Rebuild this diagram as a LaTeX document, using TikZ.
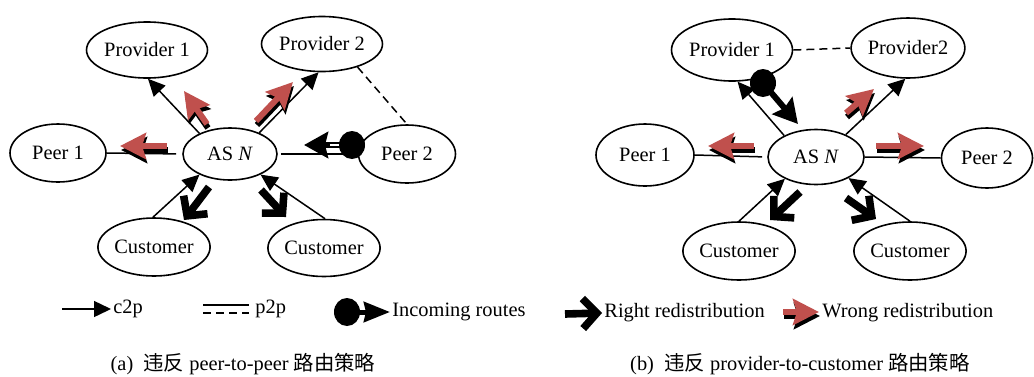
\documentclass[tikz,border=0pt]{standalone}
\usepackage{fontspec}
\setmainfont{Liberation Serif}
\newfontfamily\cjk{Noto Sans CJK SC}
\usetikzlibrary{shapes.geometric,arrows.meta,calc}
\definecolor{wred}{RGB}{192,80,77}
\newcommand\wrongarr[2]{%
  \draw[shadowr,shift={(1,4)}] #1 -- #2;
  \draw[wrongr] #1 -- #2;}
\begin{document}
\begin{tikzpicture}[x=0.5pt,y=-0.5pt,
  every node/.style={font=\fontsize{10.2}{12}\selectfont},
  st/.style={draw, ellipse, line width=0.8pt, inner sep=0pt},
  c2p/.style={line width=0.75pt, -{Triangle[length=8.5pt,width=8pt]}},
  ptp/.style={line width=0.75pt},
  ptpd/.style={line width=0.75pt, dash pattern=on 4pt off 2.5pt},
  rightr/.style={line width=3.8pt, -{Straight Barb[length=7pt,width=15pt,line join=miter]}},
  wrongr/.style={line width=3pt, wred, -{Stealth[length=13pt,width=13pt,inset=2pt]}},
  shadowr/.style={line width=3pt, black, -{Stealth[length=13pt,width=13pt,inset=2pt]}},
  inc/.style={line width=3pt, -{Stealth[length=12pt,width=13pt,inset=1.5pt]}},
  incl/.style={line width=2.5pt, -{Stealth[length=13pt,width=10pt,inset=1pt]}},
  dot/.style={fill=black, ellipse, inner sep=0pt, minimum width=13pt, minimum height=14pt},
  lbl/.style={anchor=west, inner sep=1pt},
]
\useasboundingbox (0,0) rectangle (1034,376);
% ---------- panel (a)
\node[st, minimum width=50pt, minimum height=28pt] (p1a) at (147,50) {Provider 1};
\node[st, minimum width=51pt, minimum height=27.5pt] (p2a) at (322,44) {Provider 2};
\node[st, minimum width=48pt, minimum height=29pt] (e1a) at (58,153) {Peer 1};
\node[st, minimum width=47pt, minimum height=26pt] (asa) at (230,154) {AS \textit{N}};
\node[st, minimum width=48.5pt, minimum height=29pt] (e2a) at (407,154) {Peer 2};
\node[st, minimum width=54pt, minimum height=29pt] (c1a) at (154,247) {Customer};
\node[st, minimum width=54pt, minimum height=28.5pt] (c2a) at (324,248) {Customer};

\draw[c2p] (asa.146) -- (p1a.-88);
\draw[c2p] (asa.36) -- (p2a.-97);
\draw[ptpd] (p2a.-33) -- (e2a.90);
\draw[ptp, shorten >=3pt] (e1a.east) -- (asa.west);
\draw[ptp, shorten <=1.5pt] (asa.east) -- (e2a.west);
\draw[c2p] (c1a.92) -- (asa.214);
\draw[c2p] (c2a.88) -- (asa.-34);

\wrongarr{(207,124)}{(184,91)}
\wrongarr{(256,121)}{(293,82)}
\wrongarr{(167,146)}{(120,146)}
\draw[rightr] (209,187) -- (184,220);
\draw[rightr] (261,190) -- (286,217);
\draw[inc] (350,145) -- (304,145);
\draw[white, line width=0.8pt] (330,145) -- (345,145);
\node[dot] (da) at (352,145) {};

% ---------- panel (b)
\node[st, minimum width=50pt, minimum height=31pt] (p1b) at (732,50) {Provider 1};
\node[st, minimum width=50pt, minimum height=30pt] (p2b) at (908,48) {Provider2};
\node[st, minimum width=49pt, minimum height=31pt] (e1b) at (645,155) {Peer 1};
\node[st, minimum width=48pt, minimum height=27.5pt] (asb) at (816,157) {AS \textit{N}};
\node[st, minimum width=45.5pt, minimum height=30pt] (e2b) at (987,158) {Peer 2};
\node[st, minimum width=53pt, minimum height=29pt] (c1b) at (739,251) {Customer};
\node[st, minimum width=53pt, minimum height=29pt] (c2b) at (910,251) {Customer};

\draw[ptpd] (p1b.east) -- (p2b.west);
\draw[c2p] (asb.146) -- (p1b.-80);
\draw[c2p] (asb.37) -- (p2b.-95);
\draw[ptp, shorten >=2.5pt] (e1b.east) -- (asb.west);
\draw[ptp] (asb.east) -- (e2b.west);
\draw[c2p] (c1b.90) -- (asb.215);
\draw[c2p] (c2b.90) -- (asb.-33);

\wrongarr{(754,146)}{(708,146)}
\wrongarr{(876,146)}{(924,146)}
\wrongarr{(846,113)}{(874,89)}
\draw[rightr] (800,192) -- (770,220);
\draw[rightr] (846,198) -- (876,219);
\draw[inc] (763,83) -- (798,124);
\node[dot] (db) at (763,83) {};

% ---------- legend
\coordinate (l1) at (62,309);
\node[lbl] (t1) at (111,309) {c2p};
\draw[c2p] (l1) -- (t1.west);
\draw[ptp] (203,305) -- (249,305);
\draw[ptpd] (203,313) -- (249,313);
\node[lbl] (t2) at (253,309) {p2p};
\node[dot] (d3) at (347,312) {};
\node[lbl] (t3) at (390,312) {Incoming routes};
\draw[incl] (356,312) -- (t3.west);
\coordinate (l4) at (565,314);
\node[lbl] (t4) at (602,313) {Right redistribution};
\draw[rightr] (l4) -- (t4.west);
\wrongarr{(783,312)}{(819,312)}
\node[lbl] (t5) at (820,313) {Wrong redistribution};

% ---------- captions
\node (capa) at (243,364) {(a)\ \ {\cjk 违反} peer-to-peer {\cjk 路由策略}};
\node (capb) at (800,364) {(b)\ \ {\cjk 违反} provider-to-customer {\cjk 路由策略}};
\end{tikzpicture}
\end{document}
